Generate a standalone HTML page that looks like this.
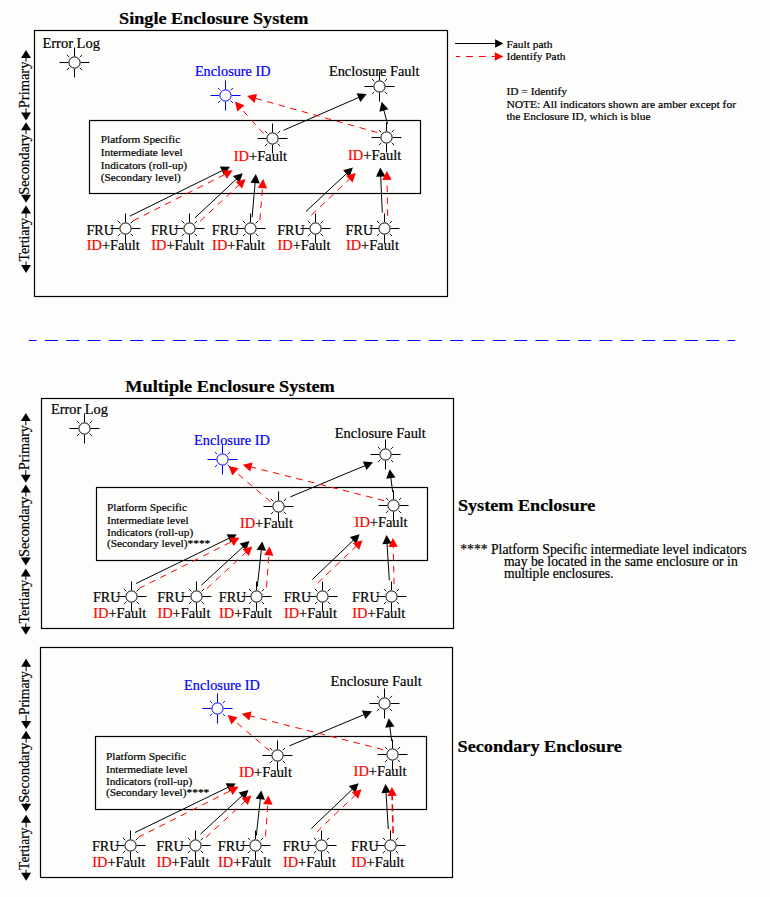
<!DOCTYPE html>
<html><head><meta charset="utf-8"><style>
html,body{margin:0;padding:0;background:#fdfdfb;}
svg{display:block;font-family:"Liberation Serif", serif;}
text{stroke-width:0.2px;}
</style></head><body>
<svg width="770" height="897" viewBox="0 0 770 897">
<text x="119.1" y="23.5" font-size="17.3" fill="#000" stroke="#000" font-weight="bold" textLength="189.4" lengthAdjust="spacingAndGlyphs">Single Enclosure System</text>
<rect x="34.5" y="30.5" width="413" height="266" fill="none" stroke="#000" stroke-width="1.2"/>
<polygon points="26,50 21,58 31,58" fill="#000"/>
<polygon points="26,120.4 21,112.4 31,112.4" fill="#000"/>
<line x1="26" y1="57" x2="26" y2="61.6" stroke="#000" stroke-width="1"/>
<line x1="26" y1="108.2" x2="26" y2="113.4" stroke="#000" stroke-width="1"/>
<text transform="translate(29,108.2) rotate(-90)" x="0" y="0" font-size="14.5" fill="#000" stroke="#000" textLength="46.6" lengthAdjust="spacingAndGlyphs">Primary</text>
<polygon points="26,122.3 21,130.3 31,130.3" fill="#000"/>
<polygon points="26,202.8 21,194.8 31,194.8" fill="#000"/>
<line x1="26" y1="129.3" x2="26" y2="134.2" stroke="#000" stroke-width="1"/>
<line x1="26" y1="194.8" x2="26" y2="195.8" stroke="#000" stroke-width="1"/>
<text transform="translate(29,194.8) rotate(-90)" x="0" y="0" font-size="14.5" fill="#000" stroke="#000" textLength="60.6" lengthAdjust="spacingAndGlyphs">Secondary</text>
<polygon points="26,205.6 21,213.6 31,213.6" fill="#000"/>
<polygon points="26,272.9 21,264.9 31,264.9" fill="#000"/>
<line x1="26" y1="212.6" x2="26" y2="218" stroke="#000" stroke-width="1"/>
<line x1="26" y1="261.5" x2="26" y2="265.9" stroke="#000" stroke-width="1"/>
<text transform="translate(29,261.5) rotate(-90)" x="0" y="0" font-size="14.5" fill="#000" stroke="#000" textLength="43.5" lengthAdjust="spacingAndGlyphs">Tertiary</text>
<text x="42.4" y="48" font-size="14.5" fill="#000" stroke="#000" textLength="57.6" lengthAdjust="spacingAndGlyphs">Error Log</text>
<circle cx="74.5" cy="62.5" r="5.6" fill="#fdfdfb" stroke="#000" stroke-width="1.0"/>
<line x1="80.7" y1="62.5" x2="89.5" y2="62.5" stroke="#000" stroke-width="1.0"/>
<line x1="74.5" y1="68.7" x2="74.5" y2="77.5" stroke="#000" stroke-width="1.0"/>
<line x1="68.3" y1="62.5" x2="59.5" y2="62.5" stroke="#000" stroke-width="1.0"/>
<line x1="74.5" y1="56.3" x2="74.5" y2="47.5" stroke="#000" stroke-width="1.0"/>
<line x1="79.66" y1="67.66" x2="82.14" y2="70.14" stroke="#000" stroke-width="0.9"/>
<line x1="69.34" y1="67.66" x2="66.86" y2="70.14" stroke="#000" stroke-width="0.9"/>
<line x1="69.34" y1="57.34" x2="66.86" y2="54.86" stroke="#000" stroke-width="0.9"/>
<line x1="79.66" y1="57.34" x2="82.14" y2="54.86" stroke="#000" stroke-width="0.9"/>
<text x="194.9" y="75.8" font-size="14.3" fill="#0000ff" stroke="#0000ff" textLength="75.6" lengthAdjust="spacingAndGlyphs">Enclosure ID</text>
<circle cx="225.5" cy="95.5" r="5.6" fill="#fdfdfb" stroke="#0000ff" stroke-width="1.0"/>
<line x1="231.7" y1="95.5" x2="240.5" y2="95.5" stroke="#0000ff" stroke-width="1.0"/>
<line x1="225.5" y1="101.7" x2="225.5" y2="110.5" stroke="#0000ff" stroke-width="1.0"/>
<line x1="219.3" y1="95.5" x2="210.5" y2="95.5" stroke="#0000ff" stroke-width="1.0"/>
<line x1="225.5" y1="89.3" x2="225.5" y2="80.5" stroke="#0000ff" stroke-width="1.0"/>
<line x1="230.66" y1="100.66" x2="233.14" y2="103.14" stroke="#0000ff" stroke-width="0.9"/>
<line x1="220.34" y1="100.66" x2="217.86" y2="103.14" stroke="#0000ff" stroke-width="0.9"/>
<line x1="220.34" y1="90.34" x2="217.86" y2="87.86" stroke="#0000ff" stroke-width="0.9"/>
<line x1="230.66" y1="90.34" x2="233.14" y2="87.86" stroke="#0000ff" stroke-width="0.9"/>
<text x="328.9" y="75.7" font-size="14.3" fill="#000" stroke="#000" textLength="90.6" lengthAdjust="spacingAndGlyphs">Enclosure Fault</text>
<circle cx="379.5" cy="86.5" r="5.6" fill="#fdfdfb" stroke="#000" stroke-width="1.0"/>
<line x1="385.7" y1="86.5" x2="394.5" y2="86.5" stroke="#000" stroke-width="1.0"/>
<line x1="379.5" y1="92.7" x2="379.5" y2="101.5" stroke="#000" stroke-width="1.0"/>
<line x1="373.3" y1="86.5" x2="364.5" y2="86.5" stroke="#000" stroke-width="1.0"/>
<line x1="379.5" y1="80.3" x2="379.5" y2="71.5" stroke="#000" stroke-width="1.0"/>
<line x1="384.66" y1="91.66" x2="387.14" y2="94.14" stroke="#000" stroke-width="0.9"/>
<line x1="374.34" y1="91.66" x2="371.86" y2="94.14" stroke="#000" stroke-width="0.9"/>
<line x1="374.34" y1="81.34" x2="371.86" y2="78.86" stroke="#000" stroke-width="0.9"/>
<line x1="384.66" y1="81.34" x2="387.14" y2="78.86" stroke="#000" stroke-width="0.9"/>
<rect x="89.5" y="120.5" width="331" height="73" fill="none" stroke="#000" stroke-width="1.2"/>
<text x="100.8" y="142.9" font-size="11.3" fill="#000" stroke="#000">Platform Specific</text>
<text x="100.8" y="155.5" font-size="11.3" fill="#000" stroke="#000">Intermediate level</text>
<text x="100.8" y="168.5" font-size="11.3" fill="#000" stroke="#000">Indicators (roll-up)</text>
<text x="100.8" y="180.6" font-size="11.3" fill="#000" stroke="#000">(Secondary level)</text>
<circle cx="272.5" cy="138.5" r="5.6" fill="#fdfdfb" stroke="#000" stroke-width="1.0"/>
<line x1="278.7" y1="138.5" x2="287.5" y2="138.5" stroke="#000" stroke-width="1.0"/>
<line x1="272.5" y1="144.7" x2="272.5" y2="153.5" stroke="#000" stroke-width="1.0"/>
<line x1="266.3" y1="138.5" x2="257.5" y2="138.5" stroke="#000" stroke-width="1.0"/>
<line x1="272.5" y1="132.3" x2="272.5" y2="123.5" stroke="#000" stroke-width="1.0"/>
<line x1="277.66" y1="143.66" x2="280.14" y2="146.14" stroke="#000" stroke-width="0.9"/>
<line x1="267.34" y1="143.66" x2="264.86" y2="146.14" stroke="#000" stroke-width="0.9"/>
<line x1="267.34" y1="133.34" x2="264.86" y2="130.86" stroke="#000" stroke-width="0.9"/>
<line x1="277.66" y1="133.34" x2="280.14" y2="130.86" stroke="#000" stroke-width="0.9"/>
<text x="233.8" y="160.7" font-size="14.3" fill="#000" stroke="#000" textLength="53.2" lengthAdjust="spacingAndGlyphs"><tspan fill="#ff0000" stroke="#ff0000">ID</tspan>+Fault</text>
<circle cx="386.5" cy="137.5" r="5.6" fill="#fdfdfb" stroke="#000" stroke-width="1.0"/>
<line x1="392.7" y1="137.5" x2="401.5" y2="137.5" stroke="#000" stroke-width="1.0"/>
<line x1="386.5" y1="143.7" x2="386.5" y2="152.5" stroke="#000" stroke-width="1.0"/>
<line x1="380.3" y1="137.5" x2="371.5" y2="137.5" stroke="#000" stroke-width="1.0"/>
<line x1="386.5" y1="131.3" x2="386.5" y2="122.5" stroke="#000" stroke-width="1.0"/>
<line x1="391.66" y1="142.66" x2="394.14" y2="145.14" stroke="#000" stroke-width="0.9"/>
<line x1="381.34" y1="142.66" x2="378.86" y2="145.14" stroke="#000" stroke-width="0.9"/>
<line x1="381.34" y1="132.34" x2="378.86" y2="129.86" stroke="#000" stroke-width="0.9"/>
<line x1="391.66" y1="132.34" x2="394.14" y2="129.86" stroke="#000" stroke-width="0.9"/>
<text x="348" y="159.8" font-size="14.3" fill="#000" stroke="#000" textLength="53.2" lengthAdjust="spacingAndGlyphs"><tspan fill="#ff0000" stroke="#ff0000">ID</tspan>+Fault</text>
<text x="86.4" y="234.8" font-size="14.3" fill="#000" stroke="#000" textLength="27.5" lengthAdjust="spacingAndGlyphs">FRU</text>
<text x="86.7" y="250.4" font-size="14.3" fill="#000" stroke="#000" textLength="53" lengthAdjust="spacingAndGlyphs"><tspan fill="#ff0000" stroke="#ff0000">ID</tspan>+Fault</text>
<circle cx="125.5" cy="228.5" r="5.6" fill="#fdfdfb" stroke="#000" stroke-width="1.0"/>
<line x1="131.7" y1="228.5" x2="140.5" y2="228.5" stroke="#000" stroke-width="1.0"/>
<line x1="125.5" y1="234.7" x2="125.5" y2="243.5" stroke="#000" stroke-width="1.0"/>
<line x1="119.3" y1="228.5" x2="110.5" y2="228.5" stroke="#000" stroke-width="1.0"/>
<line x1="125.5" y1="222.3" x2="125.5" y2="213.5" stroke="#000" stroke-width="1.0"/>
<line x1="130.66" y1="233.66" x2="133.14" y2="236.14" stroke="#000" stroke-width="0.9"/>
<line x1="120.34" y1="233.66" x2="117.86" y2="236.14" stroke="#000" stroke-width="0.9"/>
<line x1="120.34" y1="223.34" x2="117.86" y2="220.86" stroke="#000" stroke-width="0.9"/>
<line x1="130.66" y1="223.34" x2="133.14" y2="220.86" stroke="#000" stroke-width="0.9"/>
<text x="150.9" y="234.8" font-size="14.3" fill="#000" stroke="#000" textLength="27.5" lengthAdjust="spacingAndGlyphs">FRU</text>
<text x="151.2" y="250.4" font-size="14.3" fill="#000" stroke="#000" textLength="53" lengthAdjust="spacingAndGlyphs"><tspan fill="#ff0000" stroke="#ff0000">ID</tspan>+Fault</text>
<circle cx="189.5" cy="228.5" r="5.6" fill="#fdfdfb" stroke="#000" stroke-width="1.0"/>
<line x1="195.7" y1="228.5" x2="204.5" y2="228.5" stroke="#000" stroke-width="1.0"/>
<line x1="189.5" y1="234.7" x2="189.5" y2="243.5" stroke="#000" stroke-width="1.0"/>
<line x1="183.3" y1="228.5" x2="174.5" y2="228.5" stroke="#000" stroke-width="1.0"/>
<line x1="189.5" y1="222.3" x2="189.5" y2="213.5" stroke="#000" stroke-width="1.0"/>
<line x1="194.66" y1="233.66" x2="197.14" y2="236.14" stroke="#000" stroke-width="0.9"/>
<line x1="184.34" y1="233.66" x2="181.86" y2="236.14" stroke="#000" stroke-width="0.9"/>
<line x1="184.34" y1="223.34" x2="181.86" y2="220.86" stroke="#000" stroke-width="0.9"/>
<line x1="194.66" y1="223.34" x2="197.14" y2="220.86" stroke="#000" stroke-width="0.9"/>
<text x="211.8" y="234.8" font-size="14.3" fill="#000" stroke="#000" textLength="27.5" lengthAdjust="spacingAndGlyphs">FRU</text>
<text x="212.1" y="250.4" font-size="14.3" fill="#000" stroke="#000" textLength="53" lengthAdjust="spacingAndGlyphs"><tspan fill="#ff0000" stroke="#ff0000">ID</tspan>+Fault</text>
<circle cx="250.5" cy="228.5" r="5.6" fill="#fdfdfb" stroke="#000" stroke-width="1.0"/>
<line x1="256.7" y1="228.5" x2="265.5" y2="228.5" stroke="#000" stroke-width="1.0"/>
<line x1="250.5" y1="234.7" x2="250.5" y2="243.5" stroke="#000" stroke-width="1.0"/>
<line x1="244.3" y1="228.5" x2="235.5" y2="228.5" stroke="#000" stroke-width="1.0"/>
<line x1="250.5" y1="222.3" x2="250.5" y2="213.5" stroke="#000" stroke-width="1.0"/>
<line x1="255.66" y1="233.66" x2="258.14" y2="236.14" stroke="#000" stroke-width="0.9"/>
<line x1="245.34" y1="233.66" x2="242.86" y2="236.14" stroke="#000" stroke-width="0.9"/>
<line x1="245.34" y1="223.34" x2="242.86" y2="220.86" stroke="#000" stroke-width="0.9"/>
<line x1="255.66" y1="223.34" x2="258.14" y2="220.86" stroke="#000" stroke-width="0.9"/>
<text x="277.2" y="234.8" font-size="14.3" fill="#000" stroke="#000" textLength="27.5" lengthAdjust="spacingAndGlyphs">FRU</text>
<text x="277.5" y="250.4" font-size="14.3" fill="#000" stroke="#000" textLength="53" lengthAdjust="spacingAndGlyphs"><tspan fill="#ff0000" stroke="#ff0000">ID</tspan>+Fault</text>
<circle cx="315.5" cy="228.5" r="5.6" fill="#fdfdfb" stroke="#000" stroke-width="1.0"/>
<line x1="321.7" y1="228.5" x2="330.5" y2="228.5" stroke="#000" stroke-width="1.0"/>
<line x1="315.5" y1="234.7" x2="315.5" y2="243.5" stroke="#000" stroke-width="1.0"/>
<line x1="309.3" y1="228.5" x2="300.5" y2="228.5" stroke="#000" stroke-width="1.0"/>
<line x1="315.5" y1="222.3" x2="315.5" y2="213.5" stroke="#000" stroke-width="1.0"/>
<line x1="320.66" y1="233.66" x2="323.14" y2="236.14" stroke="#000" stroke-width="0.9"/>
<line x1="310.34" y1="233.66" x2="307.86" y2="236.14" stroke="#000" stroke-width="0.9"/>
<line x1="310.34" y1="223.34" x2="307.86" y2="220.86" stroke="#000" stroke-width="0.9"/>
<line x1="320.66" y1="223.34" x2="323.14" y2="220.86" stroke="#000" stroke-width="0.9"/>
<text x="345.6" y="234.8" font-size="14.3" fill="#000" stroke="#000" textLength="27.5" lengthAdjust="spacingAndGlyphs">FRU</text>
<text x="345.9" y="250.4" font-size="14.3" fill="#000" stroke="#000" textLength="53" lengthAdjust="spacingAndGlyphs"><tspan fill="#ff0000" stroke="#ff0000">ID</tspan>+Fault</text>
<circle cx="384.5" cy="228.5" r="5.6" fill="#fdfdfb" stroke="#000" stroke-width="1.0"/>
<line x1="390.7" y1="228.5" x2="399.5" y2="228.5" stroke="#000" stroke-width="1.0"/>
<line x1="384.5" y1="234.7" x2="384.5" y2="243.5" stroke="#000" stroke-width="1.0"/>
<line x1="378.3" y1="228.5" x2="369.5" y2="228.5" stroke="#000" stroke-width="1.0"/>
<line x1="384.5" y1="222.3" x2="384.5" y2="213.5" stroke="#000" stroke-width="1.0"/>
<line x1="389.66" y1="233.66" x2="392.14" y2="236.14" stroke="#000" stroke-width="0.9"/>
<line x1="379.34" y1="233.66" x2="376.86" y2="236.14" stroke="#000" stroke-width="0.9"/>
<line x1="379.34" y1="223.34" x2="376.86" y2="220.86" stroke="#000" stroke-width="0.9"/>
<line x1="389.66" y1="223.34" x2="392.14" y2="220.86" stroke="#000" stroke-width="0.9"/>
<line x1="283.5" y1="130.3" x2="359.37" y2="97.2" stroke="#000" stroke-width="1.0"/>
<polygon points="366.7,94 360.33,101.91 356.57,93.29" fill="#000"/>
<line x1="387.5" y1="124" x2="383.65" y2="109.53" stroke="#000" stroke-width="1.0"/>
<polygon points="381.6,101.8 388.45,109.29 379.37,111.71" fill="#000"/>
<line x1="263.6" y1="133.6" x2="240.24" y2="107.56" stroke="#ff0000" stroke-width="1.0" stroke-dasharray="6.5 5.5" stroke-dashoffset="0"/>
<polygon points="234.9,101.6 244.41,105.16 237.41,111.44" fill="#ff0000"/>
<line x1="377.3" y1="132.5" x2="254.8" y2="98.16" stroke="#ff0000" stroke-width="1.0" stroke-dasharray="6.5 5.5" stroke-dashoffset="0"/>
<polygon points="247.1,96 257.03,93.9 254.5,102.95" fill="#ff0000"/>
<line x1="129.9" y1="216.1" x2="222.82" y2="170.33" stroke="#000" stroke-width="1.0"/>
<polygon points="230,166.8 224,174.99 219.85,166.56" fill="#000"/>
<line x1="133" y1="220.8" x2="225.56" y2="174.1" stroke="#ff0000" stroke-width="1.0" stroke-dasharray="6.5 5.5" stroke-dashoffset="0"/>
<polygon points="232.7,170.5 226.78,178.75 222.55,170.36" fill="#ff0000"/>
<line x1="194.9" y1="217.9" x2="236.86" y2="178.66" stroke="#000" stroke-width="1.0"/>
<polygon points="242.7,173.2 239.34,182.78 232.92,175.91" fill="#000"/>
<line x1="200.1" y1="221.2" x2="239.64" y2="184.45" stroke="#ff0000" stroke-width="1.0" stroke-dasharray="6.5 5.5" stroke-dashoffset="0"/>
<polygon points="245.5,179 242.11,188.57 235.71,181.68" fill="#ff0000"/>
<line x1="252.1" y1="217.3" x2="255.2" y2="182.07" stroke="#000" stroke-width="1.0"/>
<polygon points="255.9,174.1 259.79,183.48 250.43,182.65" fill="#000"/>
<line x1="259.9" y1="219.9" x2="262.56" y2="187.07" stroke="#ff0000" stroke-width="1.0" stroke-dasharray="6.5 5.5" stroke-dashoffset="0"/>
<polygon points="263.2,179.1 267.16,188.45 257.79,187.69" fill="#ff0000"/>
<line x1="305.9" y1="211.5" x2="347.05" y2="173.06" stroke="#000" stroke-width="1.0"/>
<polygon points="352.9,167.6 349.53,177.18 343.11,170.31" fill="#000"/>
<line x1="311.4" y1="215.2" x2="350.01" y2="178.42" stroke="#ff0000" stroke-width="1.0" stroke-dasharray="6.5 5.5" stroke-dashoffset="0"/>
<polygon points="355.8,172.9 352.53,182.51 346.04,175.71" fill="#ff0000"/>
<line x1="382.3" y1="212.5" x2="380.66" y2="175.59" stroke="#000" stroke-width="1.0"/>
<polygon points="380.3,167.6 385.4,176.38 376.01,176.8" fill="#000"/>
<line x1="387.7" y1="215.9" x2="386.96" y2="178.9" stroke="#ff0000" stroke-width="1.0" stroke-dasharray="6.5 5.5" stroke-dashoffset="0"/>
<polygon points="386.8,170.9 391.68,179.8 382.28,179.99" fill="#ff0000"/>
<line x1="455.1" y1="43.5" x2="496.1" y2="43.5" stroke="#000" stroke-width="1.0"/>
<polygon points="503.4,43.5 495.1,47.8 495.1,39.2" fill="#000"/>
<line x1="456" y1="56.5" x2="495.8" y2="56.5" stroke="#ff0000" stroke-width="1.0" stroke-dasharray="7 5.8" stroke-dashoffset="2.8"/>
<polygon points="503.4,56.5 494.8,60.7 494.8,52.3" fill="#ff0000"/>
<text x="506.4" y="47.5" font-size="11.3" fill="#000" stroke="#000" textLength="46.1" lengthAdjust="spacingAndGlyphs">Fault path</text>
<text x="506.4" y="60.4" font-size="11.3" fill="#000" stroke="#000" textLength="59.1" lengthAdjust="spacingAndGlyphs">Identify Path</text>
<text x="506.4" y="94.5" font-size="10.8" fill="#000" stroke="#000" textLength="60.6" lengthAdjust="spacingAndGlyphs">ID = Identify</text>
<text x="506.4" y="108.2" font-size="10.8" fill="#000" stroke="#000" textLength="229.6" lengthAdjust="spacingAndGlyphs">NOTE: All indicators shown are amber except for</text>
<text x="506.4" y="120.4" font-size="10.8" fill="#000" stroke="#000" textLength="144.1" lengthAdjust="spacingAndGlyphs">the Enclosure ID, which is blue</text>
<line x1="28.8" y1="340.5" x2="735.1" y2="340.5" stroke="#0000ff" stroke-width="1.2" stroke-dasharray="13 8.33" stroke-dashoffset="5.23"/>
<text x="125.3" y="391.5" font-size="17.3" fill="#000" stroke="#000" font-weight="bold" textLength="209.5" lengthAdjust="spacingAndGlyphs">Multiple Enclosure System</text>
<rect x="41.5" y="398.5" width="412" height="230" fill="none" stroke="#000" stroke-width="1.2"/>
<rect x="96.5" y="487.5" width="331" height="73" fill="none" stroke="#000" stroke-width="1.2"/>
<text x="106.9" y="510.9" font-size="11.3" fill="#000" stroke="#000" textLength="80.2" lengthAdjust="spacingAndGlyphs">Platform Specific</text>
<text x="106.9" y="523.6" font-size="11.3" fill="#000" stroke="#000">Intermediate level</text>
<text x="106.9" y="535.7" font-size="11.3" fill="#000" stroke="#000">Indicators (roll-up)</text>
<text x="106.9" y="546.7" font-size="11.3" fill="#000" stroke="#000" textLength="103.4" lengthAdjust="spacingAndGlyphs">(Secondary level)****</text>
<circle cx="278.5" cy="506.5" r="5.6" fill="#fdfdfb" stroke="#000" stroke-width="1.0"/>
<line x1="284.7" y1="506.5" x2="293.5" y2="506.5" stroke="#000" stroke-width="1.0"/>
<line x1="278.5" y1="512.7" x2="278.5" y2="521.5" stroke="#000" stroke-width="1.0"/>
<line x1="272.3" y1="506.5" x2="263.5" y2="506.5" stroke="#000" stroke-width="1.0"/>
<line x1="278.5" y1="500.3" x2="278.5" y2="491.5" stroke="#000" stroke-width="1.0"/>
<line x1="283.66" y1="511.66" x2="286.14" y2="514.14" stroke="#000" stroke-width="0.9"/>
<line x1="273.34" y1="511.66" x2="270.86" y2="514.14" stroke="#000" stroke-width="0.9"/>
<line x1="273.34" y1="501.34" x2="270.86" y2="498.86" stroke="#000" stroke-width="0.9"/>
<line x1="283.66" y1="501.34" x2="286.14" y2="498.86" stroke="#000" stroke-width="0.9"/>
<text x="239.9" y="527.6" font-size="14.3" fill="#000" stroke="#000" textLength="53" lengthAdjust="spacingAndGlyphs"><tspan fill="#ff0000" stroke="#ff0000">ID</tspan>+Fault</text>
<circle cx="393.5" cy="505.5" r="5.6" fill="#fdfdfb" stroke="#000" stroke-width="1.0"/>
<line x1="399.7" y1="505.5" x2="408.5" y2="505.5" stroke="#000" stroke-width="1.0"/>
<line x1="393.5" y1="511.7" x2="393.5" y2="520.5" stroke="#000" stroke-width="1.0"/>
<line x1="387.3" y1="505.5" x2="378.5" y2="505.5" stroke="#000" stroke-width="1.0"/>
<line x1="393.5" y1="499.3" x2="393.5" y2="490.5" stroke="#000" stroke-width="1.0"/>
<line x1="398.66" y1="510.66" x2="401.14" y2="513.14" stroke="#000" stroke-width="0.9"/>
<line x1="388.34" y1="510.66" x2="385.86" y2="513.14" stroke="#000" stroke-width="0.9"/>
<line x1="388.34" y1="500.34" x2="385.86" y2="497.86" stroke="#000" stroke-width="0.9"/>
<line x1="398.66" y1="500.34" x2="401.14" y2="497.86" stroke="#000" stroke-width="0.9"/>
<text x="354.6" y="526.5" font-size="14.3" fill="#000" stroke="#000" textLength="53" lengthAdjust="spacingAndGlyphs"><tspan fill="#ff0000" stroke="#ff0000">ID</tspan>+Fault</text>
<text x="93" y="601.8" font-size="14.3" fill="#000" stroke="#000" textLength="27.5" lengthAdjust="spacingAndGlyphs">FRU</text>
<text x="93.2" y="617.6" font-size="14.3" fill="#000" stroke="#000" textLength="53" lengthAdjust="spacingAndGlyphs"><tspan fill="#ff0000" stroke="#ff0000">ID</tspan>+Fault</text>
<circle cx="131.5" cy="596.5" r="5.6" fill="#fdfdfb" stroke="#000" stroke-width="1.0"/>
<line x1="137.7" y1="596.5" x2="146.5" y2="596.5" stroke="#000" stroke-width="1.0"/>
<line x1="131.5" y1="602.7" x2="131.5" y2="611.5" stroke="#000" stroke-width="1.0"/>
<line x1="125.3" y1="596.5" x2="116.5" y2="596.5" stroke="#000" stroke-width="1.0"/>
<line x1="131.5" y1="590.3" x2="131.5" y2="581.5" stroke="#000" stroke-width="1.0"/>
<line x1="136.66" y1="601.66" x2="139.14" y2="604.14" stroke="#000" stroke-width="0.9"/>
<line x1="126.34" y1="601.66" x2="123.86" y2="604.14" stroke="#000" stroke-width="0.9"/>
<line x1="126.34" y1="591.34" x2="123.86" y2="588.86" stroke="#000" stroke-width="0.9"/>
<line x1="136.66" y1="591.34" x2="139.14" y2="588.86" stroke="#000" stroke-width="0.9"/>
<text x="157.2" y="601.8" font-size="14.3" fill="#000" stroke="#000" textLength="27.5" lengthAdjust="spacingAndGlyphs">FRU</text>
<text x="157.4" y="617.6" font-size="14.3" fill="#000" stroke="#000" textLength="53" lengthAdjust="spacingAndGlyphs"><tspan fill="#ff0000" stroke="#ff0000">ID</tspan>+Fault</text>
<circle cx="196.5" cy="596.5" r="5.6" fill="#fdfdfb" stroke="#000" stroke-width="1.0"/>
<line x1="202.7" y1="596.5" x2="211.5" y2="596.5" stroke="#000" stroke-width="1.0"/>
<line x1="196.5" y1="602.7" x2="196.5" y2="611.5" stroke="#000" stroke-width="1.0"/>
<line x1="190.3" y1="596.5" x2="181.5" y2="596.5" stroke="#000" stroke-width="1.0"/>
<line x1="196.5" y1="590.3" x2="196.5" y2="581.5" stroke="#000" stroke-width="1.0"/>
<line x1="201.66" y1="601.66" x2="204.14" y2="604.14" stroke="#000" stroke-width="0.9"/>
<line x1="191.34" y1="601.66" x2="188.86" y2="604.14" stroke="#000" stroke-width="0.9"/>
<line x1="191.34" y1="591.34" x2="188.86" y2="588.86" stroke="#000" stroke-width="0.9"/>
<line x1="201.66" y1="591.34" x2="204.14" y2="588.86" stroke="#000" stroke-width="0.9"/>
<text x="218.8" y="601.8" font-size="14.3" fill="#000" stroke="#000" textLength="27.5" lengthAdjust="spacingAndGlyphs">FRU</text>
<text x="219" y="617.6" font-size="14.3" fill="#000" stroke="#000" textLength="53" lengthAdjust="spacingAndGlyphs"><tspan fill="#ff0000" stroke="#ff0000">ID</tspan>+Fault</text>
<circle cx="256.5" cy="596.5" r="5.6" fill="#fdfdfb" stroke="#000" stroke-width="1.0"/>
<line x1="262.7" y1="596.5" x2="271.5" y2="596.5" stroke="#000" stroke-width="1.0"/>
<line x1="256.5" y1="602.7" x2="256.5" y2="611.5" stroke="#000" stroke-width="1.0"/>
<line x1="250.3" y1="596.5" x2="241.5" y2="596.5" stroke="#000" stroke-width="1.0"/>
<line x1="256.5" y1="590.3" x2="256.5" y2="581.5" stroke="#000" stroke-width="1.0"/>
<line x1="261.66" y1="601.66" x2="264.14" y2="604.14" stroke="#000" stroke-width="0.9"/>
<line x1="251.34" y1="601.66" x2="248.86" y2="604.14" stroke="#000" stroke-width="0.9"/>
<line x1="251.34" y1="591.34" x2="248.86" y2="588.86" stroke="#000" stroke-width="0.9"/>
<line x1="261.66" y1="591.34" x2="264.14" y2="588.86" stroke="#000" stroke-width="0.9"/>
<text x="283.7" y="601.8" font-size="14.3" fill="#000" stroke="#000" textLength="27.5" lengthAdjust="spacingAndGlyphs">FRU</text>
<text x="283.9" y="617.6" font-size="14.3" fill="#000" stroke="#000" textLength="53" lengthAdjust="spacingAndGlyphs"><tspan fill="#ff0000" stroke="#ff0000">ID</tspan>+Fault</text>
<circle cx="322.5" cy="596.5" r="5.6" fill="#fdfdfb" stroke="#000" stroke-width="1.0"/>
<line x1="328.7" y1="596.5" x2="337.5" y2="596.5" stroke="#000" stroke-width="1.0"/>
<line x1="322.5" y1="602.7" x2="322.5" y2="611.5" stroke="#000" stroke-width="1.0"/>
<line x1="316.3" y1="596.5" x2="307.5" y2="596.5" stroke="#000" stroke-width="1.0"/>
<line x1="322.5" y1="590.3" x2="322.5" y2="581.5" stroke="#000" stroke-width="1.0"/>
<line x1="327.66" y1="601.66" x2="330.14" y2="604.14" stroke="#000" stroke-width="0.9"/>
<line x1="317.34" y1="601.66" x2="314.86" y2="604.14" stroke="#000" stroke-width="0.9"/>
<line x1="317.34" y1="591.34" x2="314.86" y2="588.86" stroke="#000" stroke-width="0.9"/>
<line x1="327.66" y1="591.34" x2="330.14" y2="588.86" stroke="#000" stroke-width="0.9"/>
<text x="352.1" y="601.8" font-size="14.3" fill="#000" stroke="#000" textLength="27.5" lengthAdjust="spacingAndGlyphs">FRU</text>
<text x="352.3" y="617.6" font-size="14.3" fill="#000" stroke="#000" textLength="53" lengthAdjust="spacingAndGlyphs"><tspan fill="#ff0000" stroke="#ff0000">ID</tspan>+Fault</text>
<circle cx="391.5" cy="596.5" r="5.6" fill="#fdfdfb" stroke="#000" stroke-width="1.0"/>
<line x1="397.7" y1="596.5" x2="406.5" y2="596.5" stroke="#000" stroke-width="1.0"/>
<line x1="391.5" y1="602.7" x2="391.5" y2="611.5" stroke="#000" stroke-width="1.0"/>
<line x1="385.3" y1="596.5" x2="376.5" y2="596.5" stroke="#000" stroke-width="1.0"/>
<line x1="391.5" y1="590.3" x2="391.5" y2="581.5" stroke="#000" stroke-width="1.0"/>
<line x1="396.66" y1="601.66" x2="399.14" y2="604.14" stroke="#000" stroke-width="0.9"/>
<line x1="386.34" y1="601.66" x2="383.86" y2="604.14" stroke="#000" stroke-width="0.9"/>
<line x1="386.34" y1="591.34" x2="383.86" y2="588.86" stroke="#000" stroke-width="0.9"/>
<line x1="396.66" y1="591.34" x2="399.14" y2="588.86" stroke="#000" stroke-width="0.9"/>
<line x1="290.3" y1="496.9" x2="365.62" y2="465.39" stroke="#000" stroke-width="1.0"/>
<polygon points="373,462.3 366.51,470.11 362.88,461.44" fill="#000"/>
<line x1="392.7" y1="492" x2="390.75" y2="477.23" stroke="#000" stroke-width="1.0"/>
<polygon points="389.7,469.3 395.54,477.61 386.22,478.84" fill="#000"/>
<line x1="270.6" y1="501.8" x2="234.69" y2="471.19" stroke="#ff0000" stroke-width="1.0" stroke-dasharray="6.5 5.5" stroke-dashoffset="0"/>
<polygon points="228.6,466 238.5,468.26 232.4,475.42" fill="#ff0000"/>
<line x1="384.1" y1="500.6" x2="250.46" y2="466.76" stroke="#ff0000" stroke-width="1.0" stroke-dasharray="6.5 5.5" stroke-dashoffset="0"/>
<polygon points="242.7,464.8 252.58,462.45 250.27,471.57" fill="#ff0000"/>
<line x1="136" y1="583.5" x2="229.61" y2="538" stroke="#000" stroke-width="1.0"/>
<polygon points="236.8,534.5 230.76,542.66 226.65,534.21" fill="#000"/>
<line x1="138.9" y1="588.5" x2="232.36" y2="541.31" stroke="#ff0000" stroke-width="1.0" stroke-dasharray="6.5 5.5" stroke-dashoffset="0"/>
<polygon points="239.5,537.7 233.58,545.95 229.35,537.56" fill="#ff0000"/>
<line x1="201.4" y1="585.2" x2="243.62" y2="546.32" stroke="#000" stroke-width="1.0"/>
<polygon points="249.5,540.9 246.06,550.45 239.7,543.54" fill="#000"/>
<line x1="206.8" y1="588.6" x2="246.43" y2="551.84" stroke="#ff0000" stroke-width="1.0" stroke-dasharray="6.5 5.5" stroke-dashoffset="0"/>
<polygon points="252.3,546.4 248.9,555.97 242.51,549.07" fill="#ff0000"/>
<line x1="257.3" y1="586.6" x2="261.42" y2="549.35" stroke="#000" stroke-width="1.0"/>
<polygon points="262.3,541.4 265.98,550.86 256.64,549.83" fill="#000"/>
<line x1="266.5" y1="587.3" x2="268.91" y2="554.38" stroke="#ff0000" stroke-width="1.0" stroke-dasharray="6.5 5.5" stroke-dashoffset="0"/>
<polygon points="269.5,546.4 273.53,555.72 264.15,555.03" fill="#ff0000"/>
<line x1="312.3" y1="579.5" x2="353.82" y2="539.83" stroke="#000" stroke-width="1.0"/>
<polygon points="359.6,534.3 356.34,543.92 349.85,537.12" fill="#000"/>
<line x1="317.7" y1="583" x2="356.72" y2="545.73" stroke="#ff0000" stroke-width="1.0" stroke-dasharray="6.5 5.5" stroke-dashoffset="0"/>
<polygon points="362.5,540.2 359.24,549.82 352.75,543.02" fill="#ff0000"/>
<line x1="389.3" y1="580.2" x2="386.99" y2="542.88" stroke="#000" stroke-width="1.0"/>
<polygon points="386.5,534.9 391.75,543.59 382.36,544.17" fill="#000"/>
<line x1="394.1" y1="584.3" x2="393.11" y2="545.9" stroke="#ff0000" stroke-width="1.0" stroke-dasharray="6.5 5.5" stroke-dashoffset="0"/>
<polygon points="392.9,537.9 397.83,546.78 388.43,547.02" fill="#ff0000"/>
<text x="51" y="413.9" font-size="14.3" fill="#000" stroke="#000" textLength="56.9" lengthAdjust="spacingAndGlyphs">Error Log</text>
<circle cx="84.5" cy="428.5" r="5.6" fill="#fdfdfb" stroke="#000" stroke-width="1.0"/>
<line x1="90.7" y1="428.5" x2="99.5" y2="428.5" stroke="#000" stroke-width="1.0"/>
<line x1="84.5" y1="434.7" x2="84.5" y2="443.5" stroke="#000" stroke-width="1.0"/>
<line x1="78.3" y1="428.5" x2="69.5" y2="428.5" stroke="#000" stroke-width="1.0"/>
<line x1="84.5" y1="422.3" x2="84.5" y2="413.5" stroke="#000" stroke-width="1.0"/>
<line x1="89.66" y1="433.66" x2="92.14" y2="436.14" stroke="#000" stroke-width="0.9"/>
<line x1="79.34" y1="433.66" x2="76.86" y2="436.14" stroke="#000" stroke-width="0.9"/>
<line x1="79.34" y1="423.34" x2="76.86" y2="420.86" stroke="#000" stroke-width="0.9"/>
<line x1="89.66" y1="423.34" x2="92.14" y2="420.86" stroke="#000" stroke-width="0.9"/>
<text x="194" y="444.6" font-size="14.3" fill="#0000ff" stroke="#0000ff" textLength="75.8" lengthAdjust="spacingAndGlyphs">Enclosure ID</text>
<circle cx="222.5" cy="459.5" r="5.6" fill="#fdfdfb" stroke="#0000ff" stroke-width="1.0"/>
<line x1="228.7" y1="459.5" x2="237.5" y2="459.5" stroke="#0000ff" stroke-width="1.0"/>
<line x1="222.5" y1="465.7" x2="222.5" y2="474.5" stroke="#0000ff" stroke-width="1.0"/>
<line x1="216.3" y1="459.5" x2="207.5" y2="459.5" stroke="#0000ff" stroke-width="1.0"/>
<line x1="222.5" y1="453.3" x2="222.5" y2="444.5" stroke="#0000ff" stroke-width="1.0"/>
<line x1="227.66" y1="464.66" x2="230.14" y2="467.14" stroke="#0000ff" stroke-width="0.9"/>
<line x1="217.34" y1="464.66" x2="214.86" y2="467.14" stroke="#0000ff" stroke-width="0.9"/>
<line x1="217.34" y1="454.34" x2="214.86" y2="451.86" stroke="#0000ff" stroke-width="0.9"/>
<line x1="227.66" y1="454.34" x2="230.14" y2="451.86" stroke="#0000ff" stroke-width="0.9"/>
<text x="334.8" y="438.1" font-size="14.3" fill="#000" stroke="#000" textLength="91.1" lengthAdjust="spacingAndGlyphs">Enclosure Fault</text>
<circle cx="385.5" cy="454.5" r="5.6" fill="#fdfdfb" stroke="#000" stroke-width="1.0"/>
<line x1="391.7" y1="454.5" x2="400.5" y2="454.5" stroke="#000" stroke-width="1.0"/>
<line x1="385.5" y1="460.7" x2="385.5" y2="469.5" stroke="#000" stroke-width="1.0"/>
<line x1="379.3" y1="454.5" x2="370.5" y2="454.5" stroke="#000" stroke-width="1.0"/>
<line x1="385.5" y1="448.3" x2="385.5" y2="439.5" stroke="#000" stroke-width="1.0"/>
<line x1="390.66" y1="459.66" x2="393.14" y2="462.14" stroke="#000" stroke-width="0.9"/>
<line x1="380.34" y1="459.66" x2="377.86" y2="462.14" stroke="#000" stroke-width="0.9"/>
<line x1="380.34" y1="449.34" x2="377.86" y2="446.86" stroke="#000" stroke-width="0.9"/>
<line x1="390.66" y1="449.34" x2="393.14" y2="446.86" stroke="#000" stroke-width="0.9"/>
<polygon points="25.8,412.9 20.8,420.9 30.8,420.9" fill="#000"/>
<polygon points="25.8,482.8 20.8,474.8 30.8,474.8" fill="#000"/>
<line x1="25.8" y1="419.9" x2="25.8" y2="425.3" stroke="#000" stroke-width="1"/>
<line x1="25.8" y1="470" x2="25.8" y2="475.8" stroke="#000" stroke-width="1"/>
<text transform="translate(28.8,470) rotate(-90)" x="0" y="0" font-size="14.5" fill="#000" stroke="#000" textLength="44.7" lengthAdjust="spacingAndGlyphs">Primary</text>
<polygon points="25.8,484.4 20.8,492.4 30.8,492.4" fill="#000"/>
<polygon points="25.8,565.6 20.8,557.6 30.8,557.6" fill="#000"/>
<line x1="25.8" y1="491.4" x2="25.8" y2="496.5" stroke="#000" stroke-width="1"/>
<line x1="25.8" y1="557.1" x2="25.8" y2="558.6" stroke="#000" stroke-width="1"/>
<text transform="translate(28.8,557.1) rotate(-90)" x="0" y="0" font-size="14.5" fill="#000" stroke="#000" textLength="60.6" lengthAdjust="spacingAndGlyphs">Secondary</text>
<polygon points="25.8,568.5 20.8,576.5 30.8,576.5" fill="#000"/>
<polygon points="25.8,634.8 20.8,626.8 30.8,626.8" fill="#000"/>
<line x1="25.8" y1="575.5" x2="25.8" y2="579.8" stroke="#000" stroke-width="1"/>
<line x1="25.8" y1="623.4" x2="25.8" y2="627.8" stroke="#000" stroke-width="1"/>
<text transform="translate(28.8,623.4) rotate(-90)" x="0" y="0" font-size="14.5" fill="#000" stroke="#000" textLength="43.6" lengthAdjust="spacingAndGlyphs">Tertiary</text>
<rect x="40.5" y="647.5" width="412" height="230" fill="none" stroke="#000" stroke-width="1.2"/>
<rect x="95.5" y="736.5" width="331" height="73" fill="none" stroke="#000" stroke-width="1.2"/>
<text x="105.9" y="759.9" font-size="11.3" fill="#000" stroke="#000" textLength="80.2" lengthAdjust="spacingAndGlyphs">Platform Specific</text>
<text x="105.9" y="772.6" font-size="11.3" fill="#000" stroke="#000">Intermediate level</text>
<text x="105.9" y="784.7" font-size="11.3" fill="#000" stroke="#000">Indicators (roll-up)</text>
<text x="105.9" y="795.7" font-size="11.3" fill="#000" stroke="#000" textLength="103.4" lengthAdjust="spacingAndGlyphs">(Secondary level)****</text>
<circle cx="277.5" cy="755.5" r="5.6" fill="#fdfdfb" stroke="#000" stroke-width="1.0"/>
<line x1="283.7" y1="755.5" x2="292.5" y2="755.5" stroke="#000" stroke-width="1.0"/>
<line x1="277.5" y1="761.7" x2="277.5" y2="770.5" stroke="#000" stroke-width="1.0"/>
<line x1="271.3" y1="755.5" x2="262.5" y2="755.5" stroke="#000" stroke-width="1.0"/>
<line x1="277.5" y1="749.3" x2="277.5" y2="740.5" stroke="#000" stroke-width="1.0"/>
<line x1="282.66" y1="760.66" x2="285.14" y2="763.14" stroke="#000" stroke-width="0.9"/>
<line x1="272.34" y1="760.66" x2="269.86" y2="763.14" stroke="#000" stroke-width="0.9"/>
<line x1="272.34" y1="750.34" x2="269.86" y2="747.86" stroke="#000" stroke-width="0.9"/>
<line x1="282.66" y1="750.34" x2="285.14" y2="747.86" stroke="#000" stroke-width="0.9"/>
<text x="238.9" y="776.6" font-size="14.3" fill="#000" stroke="#000" textLength="53" lengthAdjust="spacingAndGlyphs"><tspan fill="#ff0000" stroke="#ff0000">ID</tspan>+Fault</text>
<circle cx="392.5" cy="754.5" r="5.6" fill="#fdfdfb" stroke="#000" stroke-width="1.0"/>
<line x1="398.7" y1="754.5" x2="407.5" y2="754.5" stroke="#000" stroke-width="1.0"/>
<line x1="392.5" y1="760.7" x2="392.5" y2="769.5" stroke="#000" stroke-width="1.0"/>
<line x1="386.3" y1="754.5" x2="377.5" y2="754.5" stroke="#000" stroke-width="1.0"/>
<line x1="392.5" y1="748.3" x2="392.5" y2="739.5" stroke="#000" stroke-width="1.0"/>
<line x1="397.66" y1="759.66" x2="400.14" y2="762.14" stroke="#000" stroke-width="0.9"/>
<line x1="387.34" y1="759.66" x2="384.86" y2="762.14" stroke="#000" stroke-width="0.9"/>
<line x1="387.34" y1="749.34" x2="384.86" y2="746.86" stroke="#000" stroke-width="0.9"/>
<line x1="397.66" y1="749.34" x2="400.14" y2="746.86" stroke="#000" stroke-width="0.9"/>
<text x="353.6" y="775.5" font-size="14.3" fill="#000" stroke="#000" textLength="53" lengthAdjust="spacingAndGlyphs"><tspan fill="#ff0000" stroke="#ff0000">ID</tspan>+Fault</text>
<text x="92" y="850.8" font-size="14.3" fill="#000" stroke="#000" textLength="27.5" lengthAdjust="spacingAndGlyphs">FRU</text>
<text x="92.2" y="866.6" font-size="14.3" fill="#000" stroke="#000" textLength="53" lengthAdjust="spacingAndGlyphs"><tspan fill="#ff0000" stroke="#ff0000">ID</tspan>+Fault</text>
<circle cx="130.5" cy="845.5" r="5.6" fill="#fdfdfb" stroke="#000" stroke-width="1.0"/>
<line x1="136.7" y1="845.5" x2="145.5" y2="845.5" stroke="#000" stroke-width="1.0"/>
<line x1="130.5" y1="851.7" x2="130.5" y2="860.5" stroke="#000" stroke-width="1.0"/>
<line x1="124.3" y1="845.5" x2="115.5" y2="845.5" stroke="#000" stroke-width="1.0"/>
<line x1="130.5" y1="839.3" x2="130.5" y2="830.5" stroke="#000" stroke-width="1.0"/>
<line x1="135.66" y1="850.66" x2="138.14" y2="853.14" stroke="#000" stroke-width="0.9"/>
<line x1="125.34" y1="850.66" x2="122.86" y2="853.14" stroke="#000" stroke-width="0.9"/>
<line x1="125.34" y1="840.34" x2="122.86" y2="837.86" stroke="#000" stroke-width="0.9"/>
<line x1="135.66" y1="840.34" x2="138.14" y2="837.86" stroke="#000" stroke-width="0.9"/>
<text x="156.2" y="850.8" font-size="14.3" fill="#000" stroke="#000" textLength="27.5" lengthAdjust="spacingAndGlyphs">FRU</text>
<text x="156.4" y="866.6" font-size="14.3" fill="#000" stroke="#000" textLength="53" lengthAdjust="spacingAndGlyphs"><tspan fill="#ff0000" stroke="#ff0000">ID</tspan>+Fault</text>
<circle cx="195.5" cy="845.5" r="5.6" fill="#fdfdfb" stroke="#000" stroke-width="1.0"/>
<line x1="201.7" y1="845.5" x2="210.5" y2="845.5" stroke="#000" stroke-width="1.0"/>
<line x1="195.5" y1="851.7" x2="195.5" y2="860.5" stroke="#000" stroke-width="1.0"/>
<line x1="189.3" y1="845.5" x2="180.5" y2="845.5" stroke="#000" stroke-width="1.0"/>
<line x1="195.5" y1="839.3" x2="195.5" y2="830.5" stroke="#000" stroke-width="1.0"/>
<line x1="200.66" y1="850.66" x2="203.14" y2="853.14" stroke="#000" stroke-width="0.9"/>
<line x1="190.34" y1="850.66" x2="187.86" y2="853.14" stroke="#000" stroke-width="0.9"/>
<line x1="190.34" y1="840.34" x2="187.86" y2="837.86" stroke="#000" stroke-width="0.9"/>
<line x1="200.66" y1="840.34" x2="203.14" y2="837.86" stroke="#000" stroke-width="0.9"/>
<text x="217.8" y="850.8" font-size="14.3" fill="#000" stroke="#000" textLength="27.5" lengthAdjust="spacingAndGlyphs">FRU</text>
<text x="218" y="866.6" font-size="14.3" fill="#000" stroke="#000" textLength="53" lengthAdjust="spacingAndGlyphs"><tspan fill="#ff0000" stroke="#ff0000">ID</tspan>+Fault</text>
<circle cx="255.5" cy="845.5" r="5.6" fill="#fdfdfb" stroke="#000" stroke-width="1.0"/>
<line x1="261.7" y1="845.5" x2="270.5" y2="845.5" stroke="#000" stroke-width="1.0"/>
<line x1="255.5" y1="851.7" x2="255.5" y2="860.5" stroke="#000" stroke-width="1.0"/>
<line x1="249.3" y1="845.5" x2="240.5" y2="845.5" stroke="#000" stroke-width="1.0"/>
<line x1="255.5" y1="839.3" x2="255.5" y2="830.5" stroke="#000" stroke-width="1.0"/>
<line x1="260.66" y1="850.66" x2="263.14" y2="853.14" stroke="#000" stroke-width="0.9"/>
<line x1="250.34" y1="850.66" x2="247.86" y2="853.14" stroke="#000" stroke-width="0.9"/>
<line x1="250.34" y1="840.34" x2="247.86" y2="837.86" stroke="#000" stroke-width="0.9"/>
<line x1="260.66" y1="840.34" x2="263.14" y2="837.86" stroke="#000" stroke-width="0.9"/>
<text x="282.7" y="850.8" font-size="14.3" fill="#000" stroke="#000" textLength="27.5" lengthAdjust="spacingAndGlyphs">FRU</text>
<text x="282.9" y="866.6" font-size="14.3" fill="#000" stroke="#000" textLength="53" lengthAdjust="spacingAndGlyphs"><tspan fill="#ff0000" stroke="#ff0000">ID</tspan>+Fault</text>
<circle cx="321.5" cy="845.5" r="5.6" fill="#fdfdfb" stroke="#000" stroke-width="1.0"/>
<line x1="327.7" y1="845.5" x2="336.5" y2="845.5" stroke="#000" stroke-width="1.0"/>
<line x1="321.5" y1="851.7" x2="321.5" y2="860.5" stroke="#000" stroke-width="1.0"/>
<line x1="315.3" y1="845.5" x2="306.5" y2="845.5" stroke="#000" stroke-width="1.0"/>
<line x1="321.5" y1="839.3" x2="321.5" y2="830.5" stroke="#000" stroke-width="1.0"/>
<line x1="326.66" y1="850.66" x2="329.14" y2="853.14" stroke="#000" stroke-width="0.9"/>
<line x1="316.34" y1="850.66" x2="313.86" y2="853.14" stroke="#000" stroke-width="0.9"/>
<line x1="316.34" y1="840.34" x2="313.86" y2="837.86" stroke="#000" stroke-width="0.9"/>
<line x1="326.66" y1="840.34" x2="329.14" y2="837.86" stroke="#000" stroke-width="0.9"/>
<text x="351.1" y="850.8" font-size="14.3" fill="#000" stroke="#000" textLength="27.5" lengthAdjust="spacingAndGlyphs">FRU</text>
<text x="351.3" y="866.6" font-size="14.3" fill="#000" stroke="#000" textLength="53" lengthAdjust="spacingAndGlyphs"><tspan fill="#ff0000" stroke="#ff0000">ID</tspan>+Fault</text>
<circle cx="390.5" cy="845.5" r="5.6" fill="#fdfdfb" stroke="#000" stroke-width="1.0"/>
<line x1="396.7" y1="845.5" x2="405.5" y2="845.5" stroke="#000" stroke-width="1.0"/>
<line x1="390.5" y1="851.7" x2="390.5" y2="860.5" stroke="#000" stroke-width="1.0"/>
<line x1="384.3" y1="845.5" x2="375.5" y2="845.5" stroke="#000" stroke-width="1.0"/>
<line x1="390.5" y1="839.3" x2="390.5" y2="830.5" stroke="#000" stroke-width="1.0"/>
<line x1="395.66" y1="850.66" x2="398.14" y2="853.14" stroke="#000" stroke-width="0.9"/>
<line x1="385.34" y1="850.66" x2="382.86" y2="853.14" stroke="#000" stroke-width="0.9"/>
<line x1="385.34" y1="840.34" x2="382.86" y2="837.86" stroke="#000" stroke-width="0.9"/>
<line x1="395.66" y1="840.34" x2="398.14" y2="837.86" stroke="#000" stroke-width="0.9"/>
<line x1="289.3" y1="745.9" x2="364.62" y2="714.39" stroke="#000" stroke-width="1.0"/>
<polygon points="372,711.3 365.51,719.11 361.88,710.44" fill="#000"/>
<line x1="391.7" y1="741" x2="389.75" y2="726.23" stroke="#000" stroke-width="1.0"/>
<polygon points="388.7,718.3 394.54,726.61 385.22,727.84" fill="#000"/>
<line x1="269.6" y1="750.8" x2="233.69" y2="720.19" stroke="#ff0000" stroke-width="1.0" stroke-dasharray="6.5 5.5" stroke-dashoffset="0"/>
<polygon points="227.6,715 237.5,717.26 231.4,724.42" fill="#ff0000"/>
<line x1="383.1" y1="749.6" x2="249.46" y2="715.76" stroke="#ff0000" stroke-width="1.0" stroke-dasharray="6.5 5.5" stroke-dashoffset="0"/>
<polygon points="241.7,713.8 251.58,711.45 249.27,720.57" fill="#ff0000"/>
<line x1="135" y1="832.5" x2="228.61" y2="787" stroke="#000" stroke-width="1.0"/>
<polygon points="235.8,783.5 229.76,791.66 225.65,783.21" fill="#000"/>
<line x1="137.9" y1="837.5" x2="231.36" y2="790.31" stroke="#ff0000" stroke-width="1.0" stroke-dasharray="6.5 5.5" stroke-dashoffset="0"/>
<polygon points="238.5,786.7 232.58,794.95 228.35,786.56" fill="#ff0000"/>
<line x1="200.4" y1="834.2" x2="242.62" y2="795.32" stroke="#000" stroke-width="1.0"/>
<polygon points="248.5,789.9 245.06,799.45 238.7,792.54" fill="#000"/>
<line x1="205.8" y1="837.6" x2="245.43" y2="800.84" stroke="#ff0000" stroke-width="1.0" stroke-dasharray="6.5 5.5" stroke-dashoffset="0"/>
<polygon points="251.3,795.4 247.9,804.97 241.51,798.07" fill="#ff0000"/>
<line x1="256.3" y1="835.6" x2="260.42" y2="798.35" stroke="#000" stroke-width="1.0"/>
<polygon points="261.3,790.4 264.98,799.86 255.64,798.83" fill="#000"/>
<line x1="265.5" y1="836.3" x2="267.91" y2="803.38" stroke="#ff0000" stroke-width="1.0" stroke-dasharray="6.5 5.5" stroke-dashoffset="0"/>
<polygon points="268.5,795.4 272.53,804.72 263.15,804.03" fill="#ff0000"/>
<line x1="311.3" y1="828.5" x2="352.82" y2="788.83" stroke="#000" stroke-width="1.0"/>
<polygon points="358.6,783.3 355.34,792.92 348.85,786.12" fill="#000"/>
<line x1="316.7" y1="832" x2="355.72" y2="794.73" stroke="#ff0000" stroke-width="1.0" stroke-dasharray="6.5 5.5" stroke-dashoffset="0"/>
<polygon points="361.5,789.2 358.24,798.82 351.75,792.02" fill="#ff0000"/>
<line x1="388.3" y1="829.2" x2="385.99" y2="791.88" stroke="#000" stroke-width="1.0"/>
<polygon points="385.5,783.9 390.75,792.59 381.36,793.17" fill="#000"/>
<line x1="393.1" y1="833.3" x2="392.11" y2="794.9" stroke="#ff0000" stroke-width="1.6" stroke-dasharray="7 4" stroke-dashoffset="0"/>
<polygon points="391.9,786.9 396.83,795.78 387.43,796.02" fill="#ff0000"/>
<text x="184" y="690.4" font-size="14.3" fill="#0000ff" stroke="#0000ff" textLength="75.8" lengthAdjust="spacingAndGlyphs">Enclosure ID</text>
<circle cx="217.5" cy="708.5" r="5.6" fill="#fdfdfb" stroke="#0000ff" stroke-width="1.0"/>
<line x1="223.7" y1="708.5" x2="232.5" y2="708.5" stroke="#0000ff" stroke-width="1.0"/>
<line x1="217.5" y1="714.7" x2="217.5" y2="723.5" stroke="#0000ff" stroke-width="1.0"/>
<line x1="211.3" y1="708.5" x2="202.5" y2="708.5" stroke="#0000ff" stroke-width="1.0"/>
<line x1="217.5" y1="702.3" x2="217.5" y2="693.5" stroke="#0000ff" stroke-width="1.0"/>
<line x1="222.66" y1="713.66" x2="225.14" y2="716.14" stroke="#0000ff" stroke-width="0.9"/>
<line x1="212.34" y1="713.66" x2="209.86" y2="716.14" stroke="#0000ff" stroke-width="0.9"/>
<line x1="212.34" y1="703.34" x2="209.86" y2="700.86" stroke="#0000ff" stroke-width="0.9"/>
<line x1="222.66" y1="703.34" x2="225.14" y2="700.86" stroke="#0000ff" stroke-width="0.9"/>
<text x="330.6" y="685.7" font-size="14.3" fill="#000" stroke="#000" textLength="91.2" lengthAdjust="spacingAndGlyphs">Enclosure Fault</text>
<circle cx="384.5" cy="703.5" r="5.6" fill="#fdfdfb" stroke="#000" stroke-width="1.0"/>
<line x1="390.7" y1="703.5" x2="399.5" y2="703.5" stroke="#000" stroke-width="1.0"/>
<line x1="384.5" y1="709.7" x2="384.5" y2="718.5" stroke="#000" stroke-width="1.0"/>
<line x1="378.3" y1="703.5" x2="369.5" y2="703.5" stroke="#000" stroke-width="1.0"/>
<line x1="384.5" y1="697.3" x2="384.5" y2="688.5" stroke="#000" stroke-width="1.0"/>
<line x1="389.66" y1="708.66" x2="392.14" y2="711.14" stroke="#000" stroke-width="0.9"/>
<line x1="379.34" y1="708.66" x2="376.86" y2="711.14" stroke="#000" stroke-width="0.9"/>
<line x1="379.34" y1="698.34" x2="376.86" y2="695.86" stroke="#000" stroke-width="0.9"/>
<line x1="389.66" y1="698.34" x2="392.14" y2="695.86" stroke="#000" stroke-width="0.9"/>
<polygon points="26.1,658.75 21.1,666.75 31.1,666.75" fill="#000"/>
<polygon points="26.1,729 21.1,721 31.1,721" fill="#000"/>
<line x1="26.1" y1="665.75" x2="26.1" y2="671.3" stroke="#000" stroke-width="1"/>
<line x1="26.1" y1="715" x2="26.1" y2="722" stroke="#000" stroke-width="1"/>
<text transform="translate(29.1,715) rotate(-90)" x="0" y="0" font-size="14.5" fill="#000" stroke="#000" textLength="43.7" lengthAdjust="spacingAndGlyphs">Primary</text>
<polygon points="26.1,730.8 21.1,738.8 31.1,738.8" fill="#000"/>
<polygon points="26.1,811.7 21.1,803.7 31.1,803.7" fill="#000"/>
<line x1="26.1" y1="737.8" x2="26.1" y2="742.7" stroke="#000" stroke-width="1"/>
<line x1="26.1" y1="802.8" x2="26.1" y2="804.7" stroke="#000" stroke-width="1"/>
<text transform="translate(29.1,802.8) rotate(-90)" x="0" y="0" font-size="14.5" fill="#000" stroke="#000" textLength="60.1" lengthAdjust="spacingAndGlyphs">Secondary</text>
<polygon points="26.1,814.7 21.1,822.7 31.1,822.7" fill="#000"/>
<polygon points="26.1,880.7 21.1,872.7 31.1,872.7" fill="#000"/>
<line x1="26.1" y1="821.7" x2="26.1" y2="827.5" stroke="#000" stroke-width="1"/>
<line x1="26.1" y1="869.9" x2="26.1" y2="873.7" stroke="#000" stroke-width="1"/>
<text transform="translate(29.1,869.9) rotate(-90)" x="0" y="0" font-size="14.5" fill="#000" stroke="#000" textLength="42.4" lengthAdjust="spacingAndGlyphs">Tertiary</text>
<text x="457.9" y="510.8" font-size="16.8" fill="#000" stroke="#000" font-weight="bold" textLength="137.4" lengthAdjust="spacingAndGlyphs">System Enclosure</text>
<text x="460.2" y="553.7" font-size="14" fill="#000" stroke="#000" textLength="286.3" lengthAdjust="spacingAndGlyphs">**** Platform Specific intermediate level indicators</text>
<text x="503.9" y="565.8" font-size="14" fill="#000" stroke="#000" textLength="233.9" lengthAdjust="spacingAndGlyphs">may be located in the same enclosure or in</text>
<text x="503.9" y="578.2" font-size="14" fill="#000" stroke="#000" textLength="109.6" lengthAdjust="spacingAndGlyphs">multiple enclosures.</text>
<text x="457.5" y="751.7" font-size="16.8" fill="#000" stroke="#000" font-weight="bold" textLength="164.3" lengthAdjust="spacingAndGlyphs">Secondary Enclosure</text>
</svg></body></html>
